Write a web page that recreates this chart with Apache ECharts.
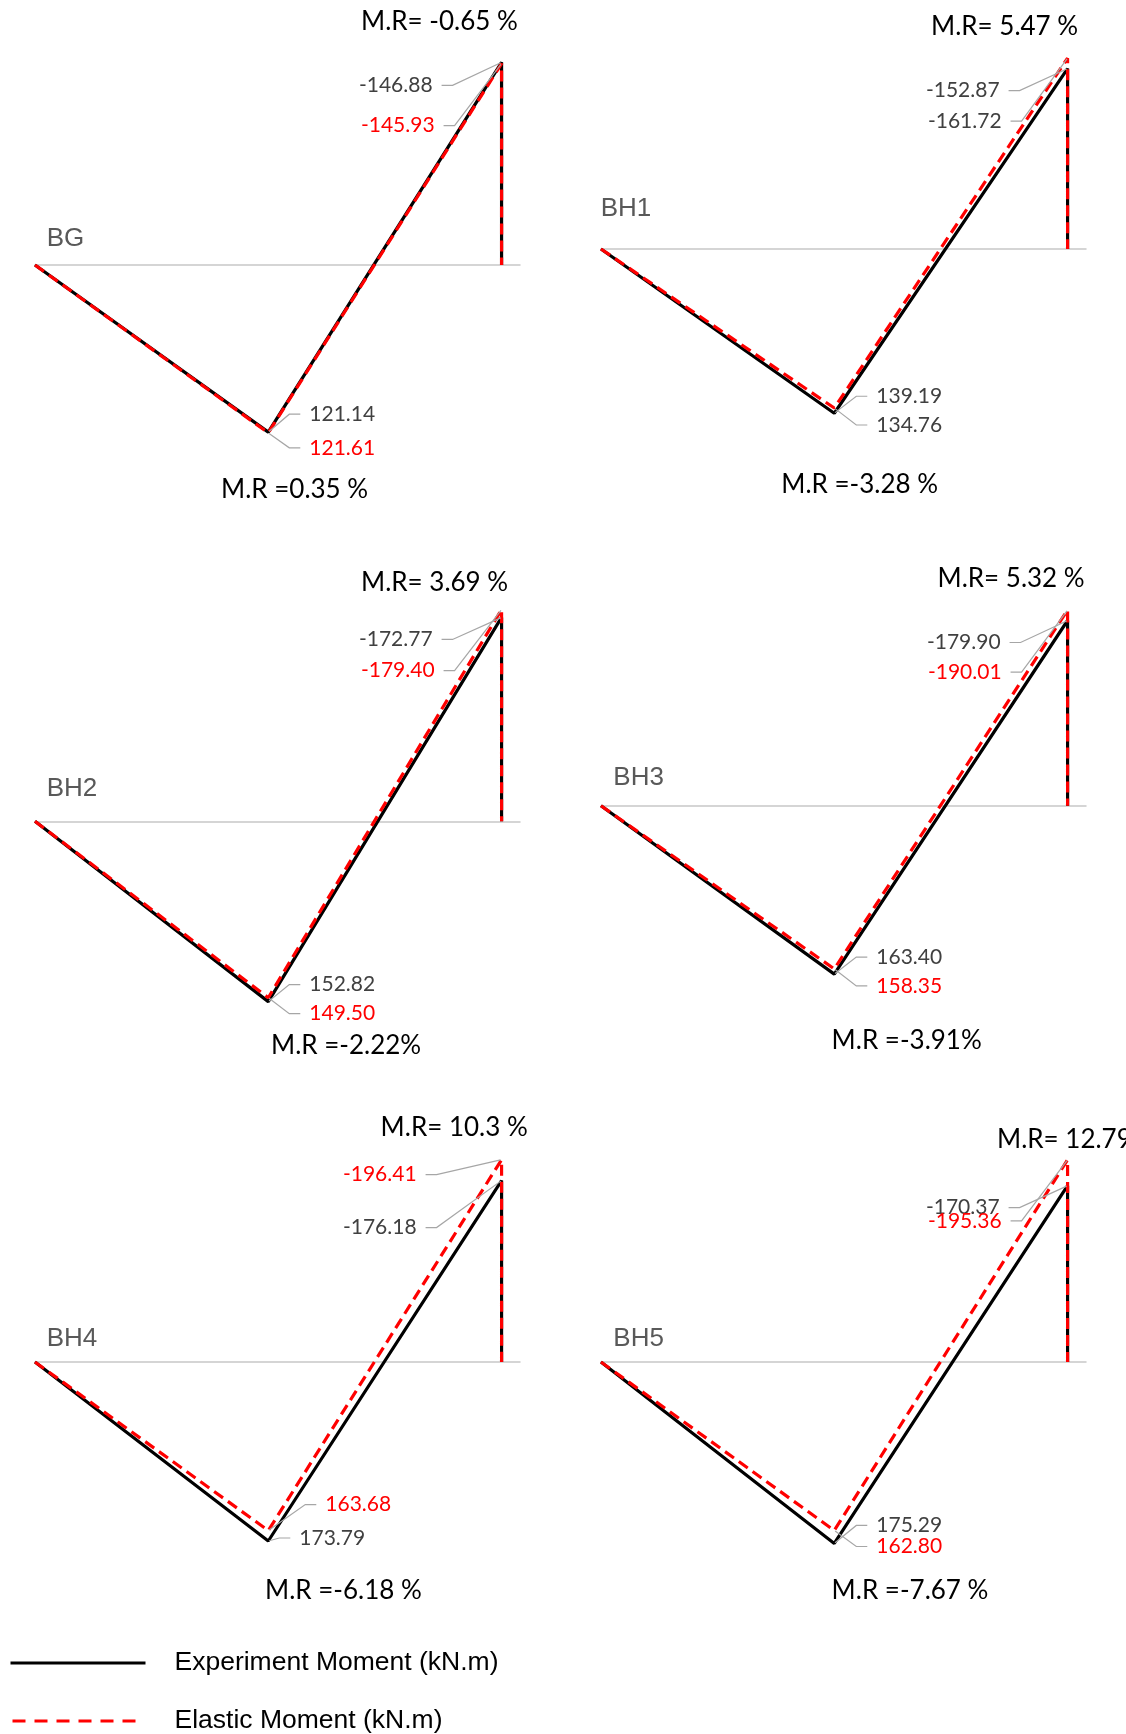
<!DOCTYPE html>
<html>
<head>
<meta charset="utf-8">
<title>Experiment vs Elastic Moment</title>
<script src="https://cdn.jsdelivr.net/npm/echarts@6/dist/echarts.min.js"></script>
<style>
  html, body { margin: 0; padding: 0; background: #ffffff; }
  #chart { width: 1126px; height: 1734px; }
</style>
</head>
<body>
<div id="chart"></div>
<script>
// ---- data -------------------------------------------------------------
const beams = ['BG', 'BH1', 'BH2', 'BH3', 'BH4', 'BH5'];
// beam stations: end support, mid-span, interior support
const stations = [0, 1, 2];
// moments in kN.m (positive = sagging, drawn below the axis)
const experimentSpan    = [121.14, 139.19, 152.82, 163.40, 173.79, 175.29];
const experimentSupport = [-146.88, -152.87, -172.77, -179.90, -176.18, -170.37];
const elasticSpan       = [121.61, 134.76, 149.50, 158.35, 163.68, 162.80];
const elasticSupport    = [-145.93, -161.72, -179.40, -190.01, -196.41, -195.36];
// moment redistribution ratios as printed
const supportRatioText = ['M.R= -0.65 %', 'M.R= 5.47 %', 'M.R= 3.69 %', 'M.R= 5.32 %', 'M.R= 10.3 %', 'M.R= 12.79 %'];
const spanRatioText    = ['M.R =0.35 %', 'M.R =-3.28 %', 'M.R =-2.22%', 'M.R =-3.91%', 'M.R =-6.18 %', 'M.R =-7.67 %'];
const seriesNames = ['Experiment Moment (kN.m)', 'Elastic Moment (kN.m)'];

// ---- layout -----------------------------------------------------------
const layout = {
  left:  [35, 601, 35, 601, 35, 601],
  zeroY: [265, 249, 821.3, 805.8, 1362, 1362],
  pxPerUnit: [1.38, 1.18, 1.18, 1.03, 1.03, 1.035],
  yUp:   [180, 200, 200, 220, 220, 220],   // extent above the axis (hogging)
  yDown: [180, 200, 200, 200, 200, 200],   // extent below the axis (sagging)
  plotWidth: 485,
  xMax: 2.079,
  nameAt:   [[46.7, 239], [600.7, 209], [46.7, 789], [613.3, 777.6], [46.7, 1339], [613.3, 1338.6]],
  topMR:    [[361, 22], [931, 27], [361, 582.4], [937.5, 578.9], [380.6, 1127.2], [997, 1140]],
  bottomMR: [[221, 490], [781.3, 485], [271, 1045.5], [831.6, 1041], [265, 1591], [831.6, 1591]],
  // label placement relative to its point [dx, dy]:
  // exp support, elastic support, exp span, elastic span
  labelOffset: [
    [[-60, 23], [-58, 62], [32, -18], [32, 15]],
    [[-59, 22], [-57, 63], [33, -17], [33, 17]],
    [[-60, 22], [-58, 61], [32, -17], [32, 16]],
    [[-58, 22], [-57, 62], [33, -17], [33, 17]],
    [[-76, 47], [-76, 15], [22, -3], [48, -26]],
    [[-59, 22], [-57, 61], [33, -18], [33, 16]]
  ]
};

const GREY_TEXT = '#404040';
const RED = '#ff0000';
const NUM_FONT = 'Lato';

// per series: dataIndex -> {dx, dy, align}
const labelPlacement = [];

function labelled(x, y, color) {
  return { value: [x, y], label: { show: true, color: color } };
}

const grids = [], xAxes = [], yAxes = [], series = [], titles = [];

beams.forEach((beam, i) => {
  const k = layout.pxPerUnit[i];
  grids.push({
    left: layout.left[i],
    width: layout.plotWidth,
    top: layout.zeroY[i] - k * layout.yUp[i],
    height: k * (layout.yUp[i] + layout.yDown[i])
  });
  xAxes.push({
    gridIndex: i, type: 'value', min: 0, max: layout.xMax,
    axisLine: { show: true, onZero: true, lineStyle: { color: '#c8c8c8', width: 1.5 } },
    axisTick: { show: false }, axisLabel: { show: false }, splitLine: { show: false }
  });
  yAxes.push({
    gridIndex: i, type: 'value', inverse: true,
    min: -layout.yUp[i], max: layout.yDown[i],
    axisLine: { show: false }, axisTick: { show: false },
    axisLabel: { show: false }, splitLine: { show: false }
  });

  const off = layout.labelOffset[i];
  const elasticColor = beam === 'BH1' ? GREY_TEXT : RED;

  const common = {
    type: 'line',
    xAxisIndex: i, yAxisIndex: i,
    symbol: 'circle', symbolSize: 2, showSymbol: true,
    clip: false,
    itemStyle: { color: 'rgba(0,0,0,0)' },
    emphasis: { disabled: true },
    silent: true,
    label: {
      show: false, padding: [0, 9],
      // invisible box so the leader starts a little away from the digits
      backgroundColor: 'rgba(255,255,255,0)',
      fontFamily: NUM_FONT, fontSize: 21,
      formatter: p => p.value[1].toFixed(2)
    },
    labelLine: { show: true, length2: 11, smooth: false, lineStyle: { color: '#a6a6a6', width: 1.2 } },
    labelLayout: p => {
      const place = (labelPlacement[p.seriesIndex] || {})[p.dataIndex];
      if (!place) return {};
      const cx = p.rect.x + p.rect.width / 2;
      const cy = p.rect.y + p.rect.height / 2;
      return { x: cx + place.dx, y: cy + place.dy, align: place.align, verticalAlign: 'middle' };
    }
  };

  labelPlacement[series.length] = {
    1: { dx: off[2][0], dy: off[2][1], align: 'left' },
    2: { dx: off[0][0], dy: off[0][1], align: 'right' }
  };
  series.push(Object.assign({}, common, {
    name: seriesNames[0],
    lineStyle: { color: '#000000', width: 3.2, type: 'solid' },
    data: [
      [stations[0], 0],
      labelled(stations[1], experimentSpan[i], GREY_TEXT),
      labelled(stations[2], experimentSupport[i], GREY_TEXT),
      [stations[2], 0]
    ]
  }));

  labelPlacement[series.length] = {
    1: { dx: off[3][0], dy: off[3][1], align: 'left' },
    2: { dx: off[1][0], dy: off[1][1], align: 'right' }
  };
  series.push(Object.assign({}, common, {
    name: seriesNames[1],
    lineStyle: { color: RED, width: 3.2, type: [11, 6], cap: 'butt' },
    data: [
      [stations[0], 0],
      labelled(stations[1], elasticSpan[i], elasticColor),
      labelled(stations[2], elasticSupport[i], elasticColor),
      [stations[2], 0]
    ]
  }));

  // beam name
  titles.push({
    text: beam, left: layout.nameAt[i][0], top: layout.nameAt[i][1] - 15, padding: 0,
    textStyle: { fontFamily: 'Liberation Sans', fontSize: 26, fontWeight: 'normal', color: '#595959', lineHeight: 30 }
  });
  // redistribution ratios at support and span
  titles.push({
    text: supportRatioText[i], left: layout.topMR[i][0], top: layout.topMR[i][1] - 15, padding: 0,
    textStyle: { fontFamily: NUM_FONT, fontSize: 26, fontWeight: 'normal', color: '#000000', lineHeight: 30 }
  });
  titles.push({
    text: spanRatioText[i], left: layout.bottomMR[i][0], top: layout.bottomMR[i][1] - 15, padding: 0,
    textStyle: { fontFamily: NUM_FONT, fontSize: 26, fontWeight: 'normal', color: '#000000', lineHeight: 30 }
  });
});

const legendText = { fontFamily: 'Liberation Sans', fontSize: 26.5, color: '#000000', lineHeight: 28 };

const option = {
  animation: false,
  backgroundColor: '#ffffff',
  title: titles,
  grid: grids,
  xAxis: xAxes,
  yAxis: yAxes,
  legend: [
    {
      left: 9, top: 1649, padding: 0, itemWidth: 135, itemHeight: 14,
      selectedMode: false,
      textStyle: Object.assign({}, legendText, { padding: [0, 0, 0, 24] }),
      data: [{ name: seriesNames[0], itemStyle: { opacity: 0 }, lineStyle: { width: 3, type: 'solid', color: '#000000' } }]
    },
    {
      left: 11, top: 1707, padding: 0, itemWidth: 124, itemHeight: 14,
      selectedMode: false,
      textStyle: Object.assign({}, legendText, { padding: [0, 0, 0, 33] }),
      data: [{ name: seriesNames[1], itemStyle: { opacity: 0 }, lineStyle: { width: 3, type: [13, 9], color: RED } }]
    }
  ],
  series: series
};

const chart = echarts.init(document.getElementById('chart'), null, { renderer: 'canvas' });
chart.setOption(option);
</script>
</body>
</html>
